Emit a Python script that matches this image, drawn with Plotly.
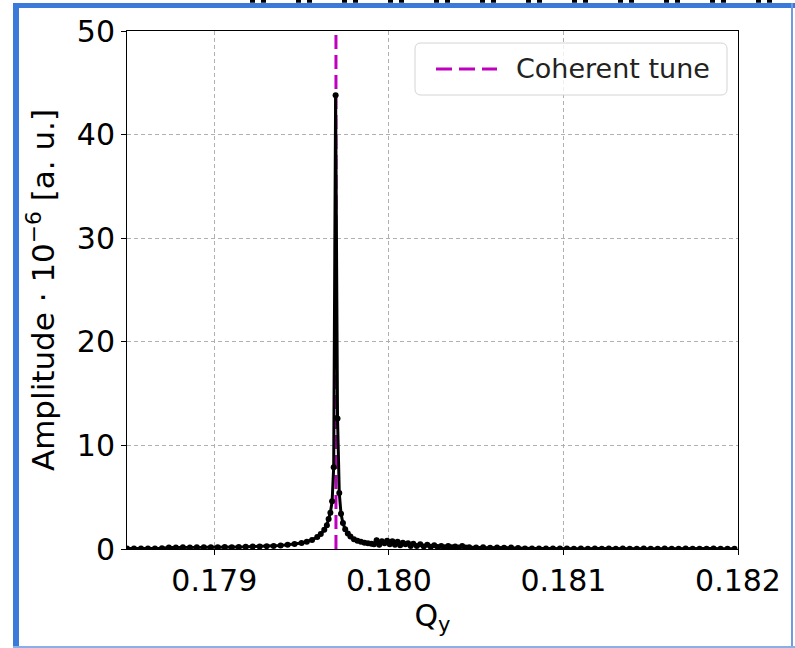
import plotly.graph_objects as go

# Vertical tune spectrum (amplitude in units of 1e-6)
q_y = [
    0.17850, 0.17854, 0.17858, 0.17862, 0.17866, 0.17870,
    0.17874, 0.17878, 0.17882, 0.17886, 0.17890, 0.17894, 0.17898,
    0.17902, 0.17906, 0.17910, 0.17914, 0.17918, 0.17922, 0.17926,
    0.17930, 0.17934, 0.17938, 0.17942, 0.17946, 0.17950, 0.17953,
    0.17956, 0.17959, 0.17961, 0.17963, 0.179645, 0.179655, 0.179665,
    0.179675, 0.179684, 0.179695, 0.179706, 0.179716, 0.179726,
    0.179737, 0.179750, 0.179765, 0.179780, 0.179800, 0.179820,
    0.179840, 0.179860, 0.179880, 0.179900,
    0.179915, 0.179930, 0.179945, 0.179960, 0.179975, 0.179990,
    0.180005, 0.180020, 0.180035, 0.180050, 0.180065, 0.180080,
    0.180095, 0.180110, 0.180125, 0.180140, 0.180160, 0.180180,
    0.180200, 0.180220, 0.180240, 0.180260, 0.180280, 0.180300,
    0.180320, 0.180340, 0.180360, 0.180380, 0.180400, 0.180420,
    0.180440, 0.180460,
    0.18050, 0.18054, 0.18058, 0.18062, 0.18066, 0.18070, 0.18074,
    0.18078, 0.18082, 0.18086, 0.18090, 0.18094, 0.18098,
    0.18102, 0.18106, 0.18110, 0.18114, 0.18118, 0.18122, 0.18126,
    0.18130, 0.18134, 0.18138, 0.18142, 0.18146, 0.18150, 0.18154,
    0.18158, 0.18162, 0.18166, 0.18170, 0.18174, 0.18178, 0.18182,
    0.18186, 0.18190, 0.18194, 0.18198,
]
amplitude = [
    0.04, 0.05, 0.04, 0.06, 0.05, 0.07,
    0.15, 0.14, 0.16, 0.15, 0.17, 0.16, 0.18,
    0.17, 0.19, 0.18, 0.20, 0.21, 0.23, 0.24,
    0.27, 0.30, 0.34, 0.40, 0.48, 0.58, 0.70,
    0.88, 1.15, 1.45, 1.85, 2.3, 2.9, 3.5,
    4.6, 7.9, 43.8, 12.6, 5.4, 3.4,
    2.5, 1.9, 1.5, 1.2, 0.95, 0.80,
    0.70, 0.60, 0.55, 0.50,
    0.45, 0.85, 0.40, 0.75, 0.55, 0.80,
    0.45, 0.75, 0.40, 0.70, 0.35, 0.60,
    0.45, 0.55, 0.30, 0.50, 0.30, 0.45,
    0.25, 0.40, 0.22, 0.35, 0.20, 0.30,
    0.18, 0.28, 0.16, 0.24, 0.15, 0.30,
    0.14, 0.18,
    0.14, 0.16, 0.13, 0.15, 0.12, 0.14, 0.10,
    0.06, 0.05, 0.05, 0.04, 0.05, 0.04,
    0.04, 0.03, 0.04, 0.03, 0.04, 0.03, 0.04,
    0.03, 0.04, 0.03, 0.03, 0.04, 0.03, 0.03,
    0.04, 0.03, 0.03, 0.04, 0.03, 0.03, 0.03,
    0.04, 0.03, 0.03, 0.03,
]

coherent_tune = 0.179697
y_span = [0, 50]
legend_label = "Coherent tune"

x_ticks = [0.179, 0.180, 0.181, 0.182]
x_tick_text = ["0.179", "0.180", "0.181", "0.182"]
y_ticks = [0, 10, 20, 30, 40, 50]

W, H = 795, 648
L, R, T, B = 127, 57, 31, 99
pw, ph = W - L - R, H - T - B


def px_x(p):
    return (p - L) / pw


def px_y(p):
    return (H - B - p) / ph


FONT = "DejaVu Sans"
BLUE = "#3c7ad9"
MAGENTA = "#bf00bf"

fig = go.Figure()

fig.add_trace(go.Scatter(
    x=[coherent_tune, coherent_tune], y=y_span, mode="lines",
    line=dict(color=MAGENTA, width=3, dash="14px,6px"),
    name=legend_label, showlegend=False,
))
fig.add_trace(go.Scatter(
    x=q_y, y=amplitude, mode="lines+markers",
    line=dict(color="black", width=3),
    marker=dict(color="black", size=6),
    showlegend=False,
))

axis_common = dict(
    showline=True, linecolor="black", linewidth=1, mirror=True,
    ticks="outside", ticklen=5, tickwidth=1, tickcolor="black",
    showgrid=True, gridcolor="#b0b0b0", gridwidth=1, griddash="4px,3px",
    zeroline=False, tickfont=dict(family=FONT, size=30, color="black"),
)

fig.update_xaxes(
    range=[0.1785, 0.182], tickvals=x_ticks, ticktext=x_tick_text,
    title=dict(text="Q<sub>y</sub>", font=dict(family=FONT, size=30, color="black"),
               standoff=6),
    **axis_common,
)
fig.update_yaxes(
    range=[0, 50], tickvals=y_ticks,
    title=dict(text="Amplitude\u00a0\u00b7\u00a010<sup>\u22126</sup> [a.\u00a0u.]",
               font=dict(family=FONT, size=31, color="black"), standoff=12),
    **axis_common,
)

# legend box drawn in pixel space: rounded frame, dashed sample and label
bx0, bx1, by0, by1, rad = 415, 727, 43, 95, 6
frame_path = (
    f"M{px_x(bx0 + rad)},{px_y(by0)} L{px_x(bx1 - rad)},{px_y(by0)} "
    f"Q{px_x(bx1)},{px_y(by0)} {px_x(bx1)},{px_y(by0 + rad)} "
    f"L{px_x(bx1)},{px_y(by1 - rad)} "
    f"Q{px_x(bx1)},{px_y(by1)} {px_x(bx1 - rad)},{px_y(by1)} "
    f"L{px_x(bx0 + rad)},{px_y(by1)} "
    f"Q{px_x(bx0)},{px_y(by1)} {px_x(bx0)},{px_y(by1 - rad)} "
    f"L{px_x(bx0)},{px_y(by0 + rad)} "
    f"Q{px_x(bx0)},{px_y(by0)} {px_x(bx0 + rad)},{px_y(by0)} Z"
)

shapes = [
    dict(type="path", xref="paper", yref="paper", path=frame_path,
         fillcolor="rgba(255,255,255,0.8)", line=dict(color="#d4d4d4", width=1),
         layer="above"),
    dict(type="line", xref="paper", yref="paper",
         x0=px_x(436), x1=px_x(497), y0=px_y(69), y1=px_y(69),
         line=dict(color=MAGENTA, width=3, dash="16px,7px"), layer="above"),
    # blue frame around the figure
    dict(type="rect", xref="paper", yref="paper",
         x0=px_x(13), x1=px_x(19), y0=px_y(648), y1=px_y(3),
         fillcolor=BLUE, line=dict(width=0), layer="above"),
    dict(type="rect", xref="paper", yref="paper",
         x0=px_x(13), x1=px_x(795), y0=px_y(8), y1=px_y(3),
         fillcolor=BLUE, line=dict(width=0), layer="above"),
    dict(type="rect", xref="paper", yref="paper",
         x0=px_x(791), x1=px_x(793), y0=px_y(648), y1=px_y(3),
         fillcolor="#6f9be3", line=dict(width=0), layer="above"),
    dict(type="rect", xref="paper", yref="paper",
         x0=px_x(13), x1=px_x(795), y0=px_y(648), y1=px_y(646),
         fillcolor="#8aaee8", line=dict(width=0), layer="above"),
    # strip of a neighbouring panel along the top edge
    dict(type="line", xref="paper", yref="paper",
         x0=px_x(250), x1=px_x(795), y0=px_y(1.3), y1=px_y(1.3),
         line=dict(color="black", width=3, dash="5px,6px,5px,30px"), layer="above"),
]

annotations = [
    dict(xref="paper", yref="paper", x=px_x(514), y=px_y(69),
         xanchor="left", yanchor="middle", showarrow=False,
         text=legend_label, font=dict(family=FONT, size=27, color="#222222")),
]

fig.update_layout(
    width=W, height=H,
    margin=dict(l=L, r=R, t=T, b=B, pad=0),
    paper_bgcolor="white", plot_bgcolor="white",
    font=dict(family=FONT, color="black"),
    showlegend=False,
    shapes=shapes,
    annotations=annotations,
)

fig.write_html("out.html")
